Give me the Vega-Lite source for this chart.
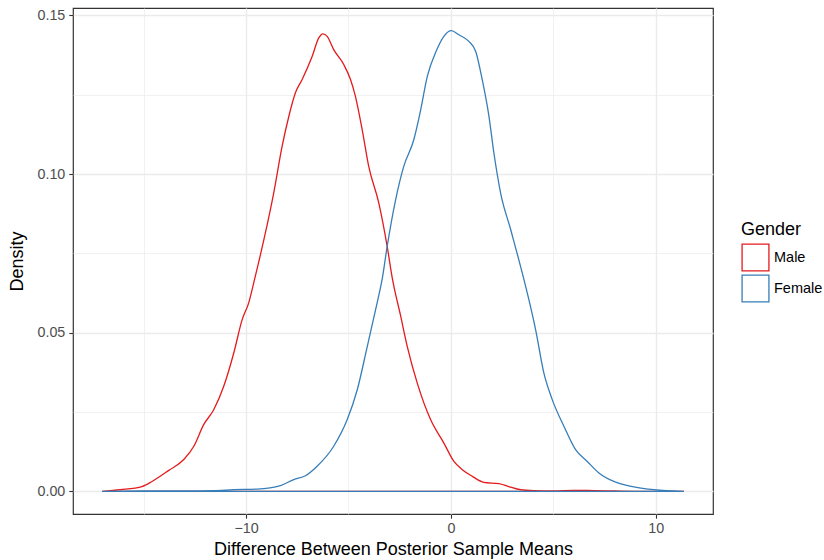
{
  "$schema": "https://vega.github.io/schema/vega-lite/v6.json",
  "autosize": {"type": "none"},
  "padding": {"left": 73, "top": 8, "right": 111, "bottom": 46},
  "width": 640,
  "height": 506,
  "background": "white",
  "config": {
    "font": "Liberation Sans",
    "view": {"stroke": "#333333", "strokeWidth": 1.2},
    "axis": {
      "domain": false,
      "gridColor": "#ebebeb",
      "tickColor": "#333333",
      "tickSize": 4.2,
      "tickWidth": 1.1,
      "labelColor": "#4d4d4d",
      "labelFontSize": 14.3,
      "labelFont": "Liberation Sans",
      "titleFont": "Liberation Sans",
      "titleFontSize": 18,
      "titleFontWeight": "normal",
      "titleColor": "#000000"
    }
  },
  "data": {
    "values": [
      {"g": "Male", "x": -17.03, "y": 0},
      {"g": "Male", "x": -16.13, "y": 0.0005},
      {"g": "Male", "x": -15.08, "y": 0.0015},
      {"g": "Male", "x": -14.59, "y": 0.0031},
      {"g": "Male", "x": -13.77, "y": 0.0066},
      {"g": "Male", "x": -13.04, "y": 0.010},
      {"g": "Male", "x": -12.55, "y": 0.0142},
      {"g": "Male", "x": -12.07, "y": 0.021},
      {"g": "Male", "x": -11.58, "y": 0.0257},
      {"g": "Male", "x": -11.09, "y": 0.0331},
      {"g": "Male", "x": -10.60, "y": 0.0436},
      {"g": "Male", "x": -10.19, "y": 0.0541},
      {"g": "Male", "x": -9.87, "y": 0.0594},
      {"g": "Male", "x": -9.57, "y": 0.0672},
      {"g": "Male", "x": -9.13, "y": 0.0793},
      {"g": "Male", "x": -8.65, "y": 0.0940},
      {"g": "Male", "x": -8.24, "y": 0.1087},
      {"g": "Male", "x": -7.91, "y": 0.1182},
      {"g": "Male", "x": -7.59, "y": 0.1256},
      {"g": "Male", "x": -7.26, "y": 0.1298},
      {"g": "Male", "x": -6.77, "y": 0.1371},
      {"g": "Male", "x": -6.45, "y": 0.1429},
      {"g": "Male", "x": -6.25, "y": 0.1442},
      {"g": "Male", "x": -6.04, "y": 0.1434},
      {"g": "Male", "x": -5.72, "y": 0.1392},
      {"g": "Male", "x": -5.23, "y": 0.1345},
      {"g": "Male", "x": -4.90, "y": 0.1298},
      {"g": "Male", "x": -4.66, "y": 0.1245},
      {"g": "Male", "x": -4.33, "y": 0.1140},
      {"g": "Male", "x": -4.01, "y": 0.1024},
      {"g": "Male", "x": -3.52, "y": 0.0909},
      {"g": "Male", "x": -3.11, "y": 0.0772},
      {"g": "Male", "x": -2.86, "y": 0.0672},
      {"g": "Male", "x": -2.46, "y": 0.0555},
      {"g": "Male", "x": -2.13, "y": 0.0457},
      {"g": "Male", "x": -1.64, "y": 0.0341},
      {"g": "Male", "x": -0.99, "y": 0.0226},
      {"g": "Male", "x": -0.34, "y": 0.0152},
      {"g": "Male", "x": 0.15, "y": 0.0094},
      {"g": "Male", "x": 0.56, "y": 0.0068},
      {"g": "Male", "x": 1.05, "y": 0.0047},
      {"g": "Male", "x": 1.61, "y": 0.0028},
      {"g": "Male", "x": 2.35, "y": 0.0024},
      {"g": "Male", "x": 2.83, "y": 0.0015},
      {"g": "Male", "x": 3.40, "y": 0.0005},
      {"g": "Male", "x": 4.05, "y": 0.0002},
      {"g": "Male", "x": 5.0, "y": 0.0001},
      {"g": "Male", "x": 6.0, "y": 0.0003},
      {"g": "Male", "x": 7.0, "y": 0.0002},
      {"g": "Male", "x": 8.0, "y": 0.0001},
      {"g": "Male", "x": 9.5, "y": 0},
      {"g": "Male", "x": 11.38, "y": 0},
      {"g": "Female", "x": -17.03, "y": 0},
      {"g": "Female", "x": -15.0, "y": 0.0001},
      {"g": "Female", "x": -13.0, "y": 0.0001},
      {"g": "Female", "x": -11.58, "y": 0.0002},
      {"g": "Female", "x": -10.6, "y": 0.0005},
      {"g": "Female", "x": -9.46, "y": 0.0007},
      {"g": "Female", "x": -8.32, "y": 0.0018},
      {"g": "Female", "x": -7.67, "y": 0.0037},
      {"g": "Female", "x": -7.10, "y": 0.0049},
      {"g": "Female", "x": -6.53, "y": 0.0079},
      {"g": "Female", "x": -5.72, "y": 0.0142},
      {"g": "Female", "x": -5.06, "y": 0.0226},
      {"g": "Female", "x": -4.57, "y": 0.0320},
      {"g": "Female", "x": -4.08, "y": 0.0457},
      {"g": "Female", "x": -3.60, "y": 0.0594},
      {"g": "Female", "x": -3.35, "y": 0.0670},
      {"g": "Female", "x": -3.11, "y": 0.0772},
      {"g": "Female", "x": -2.70, "y": 0.0918},
      {"g": "Female", "x": -2.30, "y": 0.1024},
      {"g": "Female", "x": -1.81, "y": 0.1108},
      {"g": "Female", "x": -1.48, "y": 0.1200},
      {"g": "Female", "x": -1.15, "y": 0.1308},
      {"g": "Female", "x": -0.75, "y": 0.1382},
      {"g": "Female", "x": -0.34, "y": 0.1434},
      {"g": "Female", "x": 0.02, "y": 0.1452},
      {"g": "Female", "x": 0.39, "y": 0.1439},
      {"g": "Female", "x": 0.88, "y": 0.1418},
      {"g": "Female", "x": 1.21, "y": 0.1387},
      {"g": "Female", "x": 1.53, "y": 0.1298},
      {"g": "Female", "x": 1.86, "y": 0.1182},
      {"g": "Female", "x": 2.10, "y": 0.1067},
      {"g": "Female", "x": 2.43, "y": 0.0940},
      {"g": "Female", "x": 2.92, "y": 0.0825},
      {"g": "Female", "x": 3.57, "y": 0.0667},
      {"g": "Female", "x": 3.81, "y": 0.0604},
      {"g": "Female", "x": 4.14, "y": 0.0509},
      {"g": "Female", "x": 4.54, "y": 0.0373},
      {"g": "Female", "x": 4.95, "y": 0.0289},
      {"g": "Female", "x": 5.52, "y": 0.0205},
      {"g": "Female", "x": 6.09, "y": 0.0131},
      {"g": "Female", "x": 6.66, "y": 0.0094},
      {"g": "Female", "x": 7.23, "y": 0.0058},
      {"g": "Female", "x": 7.96, "y": 0.0031},
      {"g": "Female", "x": 8.94, "y": 0.0014},
      {"g": "Female", "x": 9.92, "y": 0.0005},
      {"g": "Female", "x": 11.38, "y": 0}
    ]
  },
  "mark": {"type": "area", "fill": "transparent", "strokeWidth": 1.3, "interpolate": "monotone"},
  "encoding": {
    "x": {
      "field": "x",
      "type": "quantitative",
      "scale": {"domain": [-18.45, 12.8], "nice": false, "zero": false},
      "axis": {
        "title": "Difference Between Posterior Sample Means",
        "values": [-15, -10, -5, 0, 5, 10],
        "labelExpr": "datum.value % 10 === 0 ? datum.label : ''",
        "grid": true,
        "gridWidth": {"condition": {"test": "datum.value % 10 === 0", "value": 1.4}, "value": 0.7},
        "tickOpacity": {"condition": {"test": "datum.value % 10 === 0", "value": 1}, "value": 0},
        "labelPadding": 3,
        "titlePadding": 5
      }
    },
    "y": {
      "field": "y",
      "type": "quantitative",
      "scale": {"domain": [-0.00716, 0.15233], "nice": false, "zero": false},
      "axis": {
        "title": "Density",
        "values": [0, 0.025, 0.05, 0.075, 0.1, 0.125, 0.15],
        "format": ".2f",
        "labelExpr": "round(datum.value * 40) % 2 === 0 ? datum.label : ''",
        "grid": true,
        "gridWidth": {"condition": {"test": "round(datum.value * 40) % 2 === 0", "value": 1.4}, "value": 0.7},
        "tickOpacity": {"condition": {"test": "round(datum.value * 40) % 2 === 0", "value": 1}, "value": 0},
        "labelPadding": 4,
        "titlePadding": 10
      }
    },
    "y2": {"datum": 0},
    "stroke": {
      "field": "g",
      "type": "nominal",
      "scale": {"domain": ["Male", "Female"], "range": ["#e41a1c", "#377eb8"]},
      "legend": {
        "title": "Gender",
        "orient": "none",
        "legendX": 668,
        "legendY": 213,
        "titleFontSize": 18,
        "titleFontWeight": "normal",
        "titleColor": "#000000",
        "titlePadding": 4,
        "labelFontSize": 14.5,
        "labelColor": "#000000",
        "labelOffset": 4,
        "symbolType": "square",
        "symbolSize": 720,
        "symbolFillColor": "white",
        "symbolStrokeWidth": 1.3,
        "rowPadding": -6
      }
    }
  }
}
